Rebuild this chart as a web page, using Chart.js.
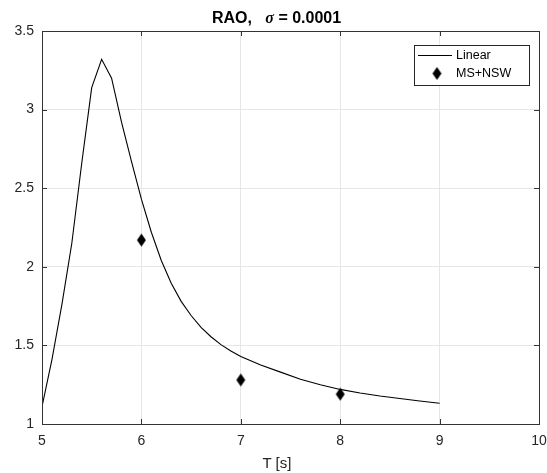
<!DOCTYPE html>
<html>
<head>
<meta charset="utf-8">
<script src="https://cdn.jsdelivr.net/npm/chart.js@4"></script>
<style>
    body { margin: 0; background: #fff; }
    #wrap { position: relative; width: 547px; height: 473px; }
    #title {
        position: absolute; left: 212px; top: 10px;
        font: bold 16px "Liberation Sans", Arial, sans-serif;
        line-height: 16px; white-space: pre; color: #000;
    }
    #title i { font-family: "Liberation Serif", "DejaVu Serif", serif; }
    #xlabel {
        position: absolute; left: 227px; width: 100px; top: 455px;
        text-align: center; font: 15px "Liberation Sans", Arial, sans-serif;
        line-height: 15px; color: #262626;
    }
</style>
</head>
<body>
<div id="wrap">
    <canvas id="raoChart" width="547" height="473"></canvas>
    <div id="title">RAO,   <i>σ</i> = 0.0001</div>
    <div id="xlabel">T [s]</div>
</div>
<script>
// Linear RAO curve
const linearT = [5.0, 5.1, 5.2, 5.3, 5.4, 5.5, 5.6, 5.7, 5.8, 5.9,
                 6.0, 6.1, 6.2, 6.3, 6.4, 6.5, 6.6, 6.7, 6.8, 6.9,
                 7.0, 7.2, 7.4, 7.6, 7.8, 8.0, 8.2, 8.4, 8.6, 8.8, 9.0];
const linearRAO = [1.11, 1.41, 1.76, 2.15, 2.66, 3.14, 3.32, 3.20, 2.92, 2.67,
                   2.43, 2.22, 2.04, 1.895, 1.78, 1.69, 1.615, 1.555, 1.505, 1.465,
                   1.43, 1.375, 1.33, 1.285, 1.25, 1.22, 1.197, 1.178, 1.162, 1.146, 1.132];

// MS+NSW results
const msnswT = [6, 7, 8];
const msnswRAO = [2.17, 1.28, 1.19];

const xTicks = [5, 6, 7, 8, 9, 10];
const yTicks = [1, 1.5, 2, 2.5, 3, 3.5];

const FONT = '"Liberation Sans", Arial, sans-serif';
const AXIS_COLOR = '#333333';

// MATLAB style diamond marker (taller than wide)
function makeDiamond() {
    const c = document.createElement('canvas');
    c.width = 11;
    c.height = 15;
    const g = c.getContext('2d');
    g.fillStyle = '#000';
    g.beginPath();
    g.moveTo(5.5, 1);
    g.lineTo(10, 7.5);
    g.lineTo(5.5, 14);
    g.lineTo(1, 7.5);
    g.closePath();
    g.fill();
    return c;
}
const diamond = makeDiamond();

// box around the axes, inward ticks and the legend
const matlabAxes = {
    id: 'matlabAxes',
    afterDraw(chart) {
        const ctx = chart.ctx;
        const a = chart.chartArea;
        const xs = chart.scales.x;
        const ys = chart.scales.y;
        ctx.save();
        ctx.strokeStyle = AXIS_COLOR;
        ctx.lineWidth = 1;
        ctx.strokeRect(Math.round(a.left) + 0.5, Math.round(a.top) + 0.5,
            Math.round(a.right - a.left), Math.round(a.bottom - a.top));

        ctx.beginPath();
        xTicks.forEach(t => {
            const px = Math.round(xs.getPixelForValue(t)) + 0.5;
            ctx.moveTo(px, a.bottom);
            ctx.lineTo(px, a.bottom - 5);
            ctx.moveTo(px, a.top);
            ctx.lineTo(px, a.top + 5);
        });
        yTicks.forEach(t => {
            const py = Math.round(ys.getPixelForValue(t)) + 0.5;
            ctx.moveTo(a.left, py);
            ctx.lineTo(a.left + 5, py);
            ctx.moveTo(a.right, py);
            ctx.lineTo(a.right - 5, py);
        });
        ctx.stroke();

        // legend
        const lx = 414, ly = 45, lw = 115, lh = 40;
        ctx.fillStyle = '#fff';
        ctx.fillRect(lx, ly, lw, lh);
        ctx.strokeStyle = '#262626';
        ctx.strokeRect(lx + 0.5, ly + 0.5, lw, lh);

        ctx.strokeStyle = '#000';
        ctx.beginPath();
        ctx.moveTo(lx + 4, ly + 10.5);
        ctx.lineTo(lx + 38, ly + 10.5);
        ctx.stroke();
        ctx.drawImage(diamond, lx + 23 - diamond.width / 2, ly + 28.5 - diamond.height / 2);

        ctx.fillStyle = '#000';
        ctx.font = '12.5px ' + FONT;
        ctx.textBaseline = 'middle';
        ctx.textAlign = 'left';
        ctx.fillText('Linear', lx + 42, ly + 11);
        ctx.fillText('MS+NSW', lx + 42, ly + 29);
        ctx.restore();
    }
};

const ctx = document.getElementById('raoChart').getContext('2d');
const raoChart = new Chart(ctx, {
    type: 'line',
    data: {
        datasets: [{
            label: 'Linear',
            data: linearT.map((t, i) => ({ x: t, y: linearRAO[i] })),
            borderColor: '#000',
            borderWidth: 1.1,
            pointRadius: 0,
            tension: 0,
            fill: false
        }, {
            label: 'MS+NSW',
            data: msnswT.map((t, i) => ({ x: t, y: msnswRAO[i] })),
            showLine: false,
            pointStyle: diamond,
            pointRadius: 7,
            pointHoverRadius: 7
        }]
    },
    options: {
        responsive: false,
        animation: false,
        devicePixelRatio: 1,
        layout: { padding: { top: 31, right: 6, left: 0, bottom: 0 } },
        plugins: {
            legend: { display: false },
            title: { display: false },
            tooltip: { enabled: false }
        },
        scales: {
            x: {
                type: 'linear',
                min: 5,
                max: 10,
                afterBuildTicks: scale => { scale.ticks = xTicks.map(v => ({ value: v })); },
                afterFit: scale => {
                    scale.height = 49;
                    scale.paddingLeft = 0;
                    scale.paddingRight = 0;
                },
                ticks: {
                    color: '#262626',
                    font: { family: FONT, size: 14 },
                    padding: 9,
                    maxRotation: 0,
                    autoSkip: false,
                    callback: v => String(v)
                },
                grid: { color: '#e6e6e6', drawTicks: false },
                border: { color: AXIS_COLOR }
            },
            y: {
                type: 'linear',
                min: 1,
                max: 3.5,
                afterBuildTicks: scale => { scale.ticks = yTicks.map(v => ({ value: v })); },
                afterFit: scale => {
                    scale.width = 42;
                    scale.paddingTop = 0;
                    scale.paddingBottom = 0;
                },
                ticks: {
                    color: '#262626',
                    font: { family: FONT, size: 14 },
                    padding: 8,
                    autoSkip: false,
                    callback: v => String(v)
                },
                grid: { color: '#e6e6e6', drawTicks: false },
                border: { color: AXIS_COLOR }
            }
        }
    },
    plugins: [matlabAxes]
});
</script>
</body>
</html>
